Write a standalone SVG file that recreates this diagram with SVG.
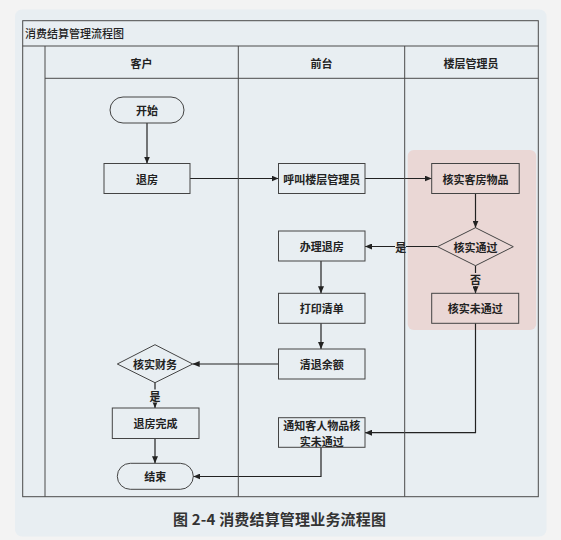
<svg xmlns="http://www.w3.org/2000/svg" width="561" height="540" viewBox="0 0 561 540">
<defs>
<marker id="arr" markerWidth="7" markerHeight="6" refX="7" refY="3" orient="auto" markerUnits="userSpaceOnUse">
<path d="M0,0 L7,3 L0,6 Z" fill="#222"/>
</marker>
<style>
.grid{stroke:#4a4a4a;stroke-width:1;fill:none}
.box{fill:none;stroke:#444;stroke-width:1}
.t{font-family:"Noto Sans CJK SC","Noto Sans",sans-serif;font-size:11px;font-weight:700;fill:#222;text-anchor:middle;dominant-baseline:central}
.conn path{stroke:#222;stroke-width:1.2;fill:none;marker-end:url(#arr)}
</style>
</defs>
<rect x="0" y="0" width="561" height="540" fill="#f3f3f3"/>
<rect x="15" y="9.5" width="531.5" height="527" rx="7" fill="#e8eef2"/>
<rect x="407.7" y="150" width="128.5" height="180" rx="6" fill="#ead7d5"/>
<g class="conn" id="connectors">
<path d="M147,123 L147,163.5"/>
<path d="M190,178.5 L278.5,178.5"/>
<path d="M365,178.5 L431.7,178.5"/>
<path d="M475.5,193.5 L475.5,227.7"/>
<path d="M437.5,246.5 L365,246.5"/>
<path d="M475.5,265.7 L475.5,293.3"/>
<path d="M321,261 L321,293.3"/>
<path d="M321,323.3 L321,349"/>
<path d="M278.5,364 L192.7,364"/>
<path d="M155,382.7 L155,408"/>
<path d="M155,438.5 L155,463.3"/>
<path d="M475.5,323.3 L475.5,432.7 L365,432.7"/>
<path d="M321,447.3 L321,476.5 L193.3,476.5"/>
<rect x="395" y="240" width="11" height="13" fill="#e8eef2"/>
<rect x="470" y="273" width="11" height="13" fill="#ead7d5"/>
<rect x="149.5" y="389.5" width="11" height="13" fill="#e8eef2"/>
</g>
<g id="frame">
<rect class="grid" x="22.7" y="20.7" width="515.6" height="476"/>
<line class="grid" x1="22.7" y1="46" x2="538.3" y2="46"/>
<line class="grid" x1="45" y1="46" x2="45" y2="496.7"/>
<line class="grid" x1="45" y1="78.3" x2="538.3" y2="78.3"/>
<line class="grid" x1="238.3" y1="46" x2="238.3" y2="496.7"/>
<line class="grid" x1="404.7" y1="46" x2="404.7" y2="496.7"/>
<text x="25" y="33.3" class="t" style="text-anchor:start;font-weight:500">消费结算管理流程图</text>
<text x="141.5" y="63.3" class="t">客户</text>
<text x="321.5" y="63.3" class="t">前台</text>
<text x="471" y="63.3" class="t">楼层管理员</text>
</g>
<g id="labels">
<text x="400.7" y="246.5" class="t">是</text>
<text x="475.5" y="279.3" class="t">否</text>
<text x="155" y="396" class="t">是</text>
</g>
<g id="start"><rect class="box" x="110" y="97" width="74" height="26" rx="13"/><text x="147" y="110" class="t">开始</text></g>
<g id="checkout"><rect class="box" x="104" y="163.5" width="86" height="30"/><text x="147" y="178.5" class="t">退房</text></g>
<g id="call"><rect class="box" x="278.5" y="163.5" width="86.5" height="30"/><text x="321.7" y="178.5" class="t">呼叫楼层管理员</text></g>
<g id="verify"><rect class="box" x="431.7" y="163.5" width="87.5" height="30"/><text x="475.5" y="178.5" class="t">核实客房物品</text></g>
<g id="pass"><polygon class="box" points="475.5,227.7 513.3,246.7 475.5,265.7 437.5,246.7"/><text x="475.5" y="246.7" class="t">核实通过</text></g>
<g id="handle"><rect class="box" x="278.5" y="231" width="86.5" height="30"/><text x="321.7" y="246" class="t">办理退房</text></g>
<g id="print"><rect class="box" x="278.5" y="293.3" width="86.5" height="30"/><text x="321.7" y="308.3" class="t">打印清单</text></g>
<g id="fail"><rect class="box" x="431.7" y="293.3" width="87" height="30"/><text x="475.2" y="308.3" class="t">核实未通过</text></g>
<g id="refund"><rect class="box" x="278.5" y="349" width="86.5" height="30"/><text x="321.7" y="364" class="t">清退余额</text></g>
<g id="finance"><polygon class="box" points="155,344.7 192.7,364 155,382.7 117.3,364"/><text x="155" y="364" class="t">核实财务</text></g>
<g id="done"><rect class="box" x="112.3" y="408" width="86.7" height="30.5"/><text x="155.6" y="423" class="t">退房完成</text></g>
<g id="notify"><rect class="box" x="278.5" y="417.7" width="86.5" height="29.6"/><text x="321.7" y="425" class="t">通知客人物品核</text><text x="321.7" y="440.5" class="t">实未通过</text></g>
<g id="end"><rect class="box" x="117.3" y="463.3" width="76" height="26" rx="13"/><text x="155.3" y="476.3" class="t">结束</text></g>
<text x="173" y="518" textLength="213" lengthAdjust="spacing" style="font-family:'Noto Sans CJK SC','Noto Sans',sans-serif;font-size:15px;font-weight:700;fill:#333;dominant-baseline:central">图 2-4  消费结算管理业务流程图</text>
</svg>
